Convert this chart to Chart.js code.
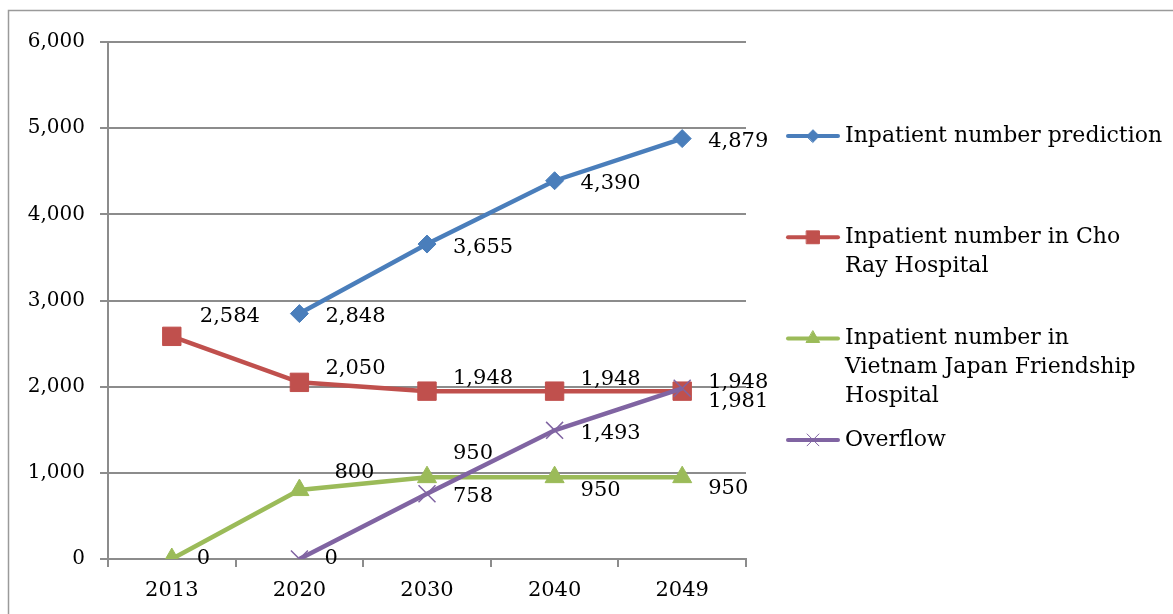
<!DOCTYPE html>
<html>
<head>
<meta charset="utf-8">
<script src="https://cdn.jsdelivr.net/npm/chart.js@4.4.0/dist/chart.umd.min.js"></script>
<style>
  html, body { margin: 0; padding: 0; background: #fff; }
  #wrap { position: relative; width: 1173px; height: 614px; }
</style>
</head>
<body>
<div id="wrap"><canvas id="chart" width="1173" height="614"></canvas></div>
<script>
// data
const years = ['2013', '2020', '2030', '2040', '2049'];
const prediction = [null, 2848, 3655, 4390, 4879];
const choRay = [2584, 2050, 1948, 1948, 1948];
const vietnamJapan = [0, 800, 950, 950, 950];
const overflow = [null, 0, 758, 1493, 1981];
const seriesNames = [
  'Inpatient number prediction',
  'Inpatient number in Cho Ray Hospital',
  'Inpatient number in Vietnam Japan Friendship Hospital',
  'Overflow'
];

const FONT = '"DejaVu Serif", "Liberation Serif", serif';
const GRID = '#8c8c8c';

// per point nudges for data labels [dx, dy], default is right of point
const labelNudge = {
  '1-0': [28, -20], '1-1': [26, -14], '1-2': [26, -13], '1-3': [26, -12], '1-4': [26, -9],
  '2-0': [25, 0], '2-1': [35, -18], '2-2': [26, -24], '2-3': [26, 13], '2-4': [26, 11],
  '3-1': [25, 0], '3-4': [26, 13]
};

const dataLabels = {
  id: 'dataLabels',
  afterDatasetsDraw(chart) {
    const ctx = chart.ctx;
    ctx.save();
    ctx.font = '21px ' + FONT;
    ctx.fillStyle = '#000';
    ctx.textAlign = 'left';
    ctx.textBaseline = 'middle';
    chart.data.datasets.forEach((ds, di) => {
      const meta = chart.getDatasetMeta(di);
      meta.data.forEach((pt, i) => {
        const v = ds.data[i];
        if (v === null) return;
        const n = labelNudge[di + '-' + i] || [26, 3];
        ctx.fillText(v.toLocaleString('en-US'), pt.x + n[0], pt.y + n[1]);
      });
    });
    ctx.restore();
  }
};

const sideLegend = {
  id: 'sideLegend',
  afterDraw(chart) {
    const ctx = chart.ctx;
    const h = Chart.helpers;
    ctx.save();
    ctx.font = '22px ' + FONT;
    chart.data.datasets.forEach((ds, i) => {
      const y = 136 + i * 101.3;
      ctx.strokeStyle = ds.borderColor;
      ctx.lineWidth = 4;
      ctx.lineCap = 'round';
      ctx.beginPath();
      ctx.moveTo(788, y);
      ctx.lineTo(838, y);
      ctx.stroke();
      ctx.fillStyle = ds.pointBackgroundColor;
      ctx.strokeStyle = ds.pointBorderColor;
      ctx.lineWidth = 1;
      h.drawPoint(ctx, { pointStyle: ds.pointStyle, radius: ds.pointRadius * 0.7, borderWidth: 1, rotation: 0 }, 813, y);
      // wrap the name
      const words = ds.label.split(' ');
      const lines = [];
      let cur = '';
      words.forEach(w => {
        const t = cur ? cur + ' ' + w : w;
        if (ctx.measureText(t).width > 320 && cur) { lines.push(cur); cur = w; } else cur = t;
      });
      lines.push(cur);
      ctx.fillStyle = '#000';
      ctx.textAlign = 'left';
      ctx.textBaseline = 'middle';
      lines.forEach((l, k) => ctx.fillText(l, 845, y + k * 29));
    });
    ctx.restore();
  }
};

const frame = {
  id: 'frame',
  beforeDraw(chart) {
    const ctx = chart.ctx;
    ctx.save();
    ctx.strokeStyle = '#9a9a9a';
    ctx.lineWidth = 1.5;
    ctx.beginPath();
    ctx.moveTo(8.5, 620);
    ctx.lineTo(8.5, 10.5);
    ctx.lineTo(1180, 10.5);
    ctx.stroke();
    ctx.restore();
  }
};

function series(label, data, color, style, radius, order) {
  return {
    label, data, order,
    borderColor: color,
    backgroundColor: color,
    borderWidth: 4.5,
    pointStyle: style,
    pointRadius: radius,
    pointBackgroundColor: color,
    pointBorderColor: color,
    pointBorderWidth: style === 'crossRot' ? 1.5 : 1,
    tension: 0
  };
}

new Chart(document.getElementById('chart'), {
  type: 'line',
  data: {
    labels: years,
    datasets: [
      series(seriesNames[0], prediction, '#4a7ebb', 'rectRot', 9, 4),
      series(seriesNames[1], choRay, '#c0504d', 'rect', 13, 3),
      series(seriesNames[2], vietnamJapan, '#9bbb59', 'triangle', 11, 2),
      series(seriesNames[3], overflow, '#8064a2', 'crossRot', 12, 1)
    ]
  },
  options: {
    responsive: false,
    animation: false,
    layout: { padding: { top: 42, right: 427, bottom: 0, left: 0 } },
    plugins: { legend: { display: false }, tooltip: { enabled: false } },
    scales: {
      x: {
        offset: true,
        grid: { offset: true, drawOnChartArea: false, drawTicks: true, tickLength: 8, color: GRID, lineWidth: 2 },
        border: { color: GRID, width: 2 },
        ticks: { font: { family: FONT, size: 21 }, color: '#000', padding: 11 },
        afterFit(s) { s.height = 55; }
      },
      y: {
        min: 0, max: 6000,
        ticks: { stepSize: 1000, font: { family: FONT, size: 20 }, color: '#000', padding: 15,
          callback: v => v.toLocaleString('en-US') },
        grid: { color: GRID, lineWidth: 2, tickLength: 8 },
        border: { color: GRID, width: 2 },
        afterFit(s) { s.width = 108; }
      }
    }
  },
  plugins: [frame, dataLabels, sideLegend]
});
</script>
</body>
</html>
